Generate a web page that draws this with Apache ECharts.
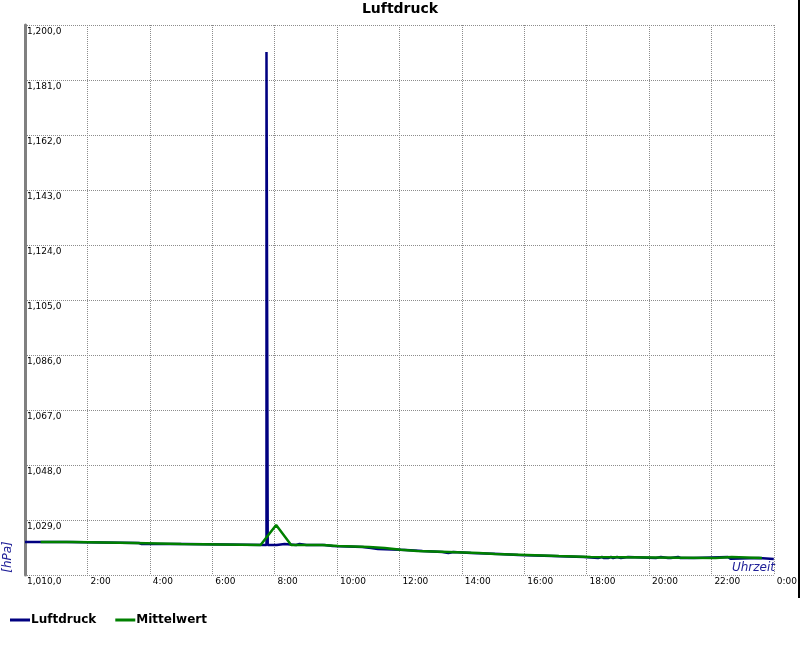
<!DOCTYPE html>
<html><head><meta charset="utf-8">
<script src="https://cdn.jsdelivr.net/npm/echarts@6/dist/echarts.min.js"></script>
<style>html,body{margin:0;padding:0;background:#fff}#c{width:800px;height:650px}</style>
</head><body><div id="c"></div><script>
// Luftdruck readings (hour of day, hPa) – value holds until next reading
const luftZeit = [0, 1.33, 3.65, 3.74, 3.78, 5.10, 7.74, 7.78, 8.07, 8.32, 8.69, 8.80, 9.02, 9.05,
  9.60, 9.86, 10.82, 11.09, 11.31, 12.21, 12.74, 13.38, 13.57, 13.73, 14.30, 15.22, 15.81, 16.90,
  17.92, 18.37, 18.49, 18.56, 18.61, 18.69, 18.78, 18.85, 18.98, 19.10, 19.33, 20.22, 20.38, 20.61,
  20.64, 20.70, 20.93, 20.99, 21.01, 21.44, 22.53, 22.61, 23.52, 24];
const luftWert = [1021.40, 1021.05, 1020.71, 1021.05, 1020.71, 1020.36, 1190.67, 1020.36, 1020.71, 1020.36, 1020.71, 1020.36, 1020.71, 1020.36,
  1020.02, 1019.67, 1019.33, 1018.98, 1018.64, 1018.29, 1017.95, 1017.60, 1017.95, 1017.60, 1017.25, 1016.91, 1016.56, 1016.22,
  1015.87, 1016.22, 1015.87, 1016.22, 1015.87, 1016.22, 1015.87, 1016.22, 1015.87, 1016.22, 1015.87, 1016.22, 1015.87, 1016.22,
  1015.87, 1016.22, 1015.87, 1016.22, 1015.87, 1016.22, 1015.65, 1015.87, 1015.53, 1015.53];
// Mittelwert (hour of day, hPa)
const mittelZeit = [0.5, 1.53, 1.55, 3.51, 3.53, 5.01, 5.03, 7.55, 8.05, 8.53, 9.53, 9.55, 10.04, 10.06,
  11.03, 11.05, 11.53, 11.55, 12.05, 12.07, 12.57, 12.59, 13.59, 13.61, 14.55, 14.57, 15.06, 15.08,
  16.09, 16.11, 17.11, 17.13, 18.13, 18.15, 22.13, 22.15, 22.65, 22.67, 23.62];
const mittelWert = [1021.40, 1021.40, 1021.05, 1021.05, 1020.71, 1020.71, 1020.36, 1020.36, 1027.27, 1020.36, 1020.36, 1020.02, 1020.02, 1019.67,
  1019.67, 1019.33, 1019.33, 1018.75, 1018.75, 1018.29, 1018.29, 1017.95, 1017.95, 1017.60, 1017.60, 1017.25, 1017.25, 1016.91,
  1016.91, 1016.56, 1016.56, 1016.22, 1016.22, 1015.87, 1015.87, 1016.22, 1016.22, 1015.87, 1015.87];
const yMin = 1010, yMax = 1200, yStep = 19;
const xMin = 0, xMax = 24, xStep = 2;
const seriesNames = ['Luftdruck', 'Mittelwert'];
const seriesColors = ['#000080', '#008000'];

const FONT = 'DejaVu Sans';
function fmtY(v) {
  const s = Math.round(v).toString().replace(/\B(?=(\d{3})+(?!\d))/g, ',');
  return s + ',0';
}
const chart = echarts.init(document.getElementById('c'), null, {renderer: 'canvas'});
chart.setOption({
  animation: false,
  backgroundColor: '#ffffff',
  title: {
    text: 'Luftdruck', left: 'center', top: 2, padding: 0,
    textStyle: {fontFamily: FONT, fontSize: 14, fontWeight: 'bold', color: '#000'}
  },
  legend: {
    left: 10, top: 614, padding: 0, itemGap: 19, itemWidth: 20, itemHeight: 3, icon: 'rect',
    data: seriesNames,
    textStyle: {fontFamily: FONT, fontSize: 12, fontWeight: 'bold', color: '#000', padding: [0, 0, 6, -4]}
  },
  grid: {left: 25, top: 25, width: 750, height: 550, containLabel: false},
  xAxis: {
    type: 'value', min: xMin, max: xMax, interval: xStep,
    axisLine: {show: false}, axisTick: {show: false},
    axisLabel: {
      showMinLabel: false, showMaxLabel: true, align: 'left', margin: 2,
      padding: [0, 0, 0, 3], fontFamily: FONT, fontSize: 9, color: '#000',
      formatter: v => (v % 24) + ':00'
    },
    splitLine: {show: true, lineStyle: {color: '#8c8c8c', width: 1, type: [1, 1]}}
  },
  yAxis: {
    type: 'value', min: yMin, max: yMax, interval: yStep,
    axisLine: {show: true, lineStyle: {color: '#808080', width: 3}},
    axisTick: {show: false},
    axisLabel: {
      inside: true, align: 'left', verticalAlign: 'top', margin: 2, padding: [2, 0, 0, 0],
      fontFamily: FONT, fontSize: 9, color: '#000', formatter: fmtY
    },
    splitLine: {show: true, lineStyle: {color: '#8c8c8c', width: 1, type: [1, 1]}}
  },
  series: [
    {
      name: seriesNames[0], type: 'line', step: 'end', showSymbol: false, symbol: 'none',
      data: luftZeit.map((t, i) => [t, luftWert[i]]),
      lineStyle: {color: seriesColors[0], width: 2.5}, itemStyle: {color: seriesColors[0]}
    },
    {
      name: seriesNames[1], type: 'line', showSymbol: false, symbol: 'none',
      data: mittelZeit.map((t, i) => [t, mittelWert[i]]),
      lineStyle: {color: seriesColors[1], width: 2.5}, itemStyle: {color: seriesColors[1]}
    }
  ],
  graphic: [
    {type: 'text', x: 8, y: 557, rotation: Math.PI / 2,
     style: {text: '[hPa]', font: 'italic 12px "DejaVu Sans"', fill: '#202098', align: 'center', verticalAlign: 'middle'}},
    {type: 'text', x: 775, y: 574,
     style: {text: 'Uhrzeit', font: 'italic 12px "DejaVu Sans"', fill: '#202098', align: 'right', verticalAlign: 'bottom'}},
    {type: 'rect', shape: {x: 798, y: 0, width: 2, height: 598}, style: {fill: '#000'}, silent: true}
  ]
});
</script></body></html>
